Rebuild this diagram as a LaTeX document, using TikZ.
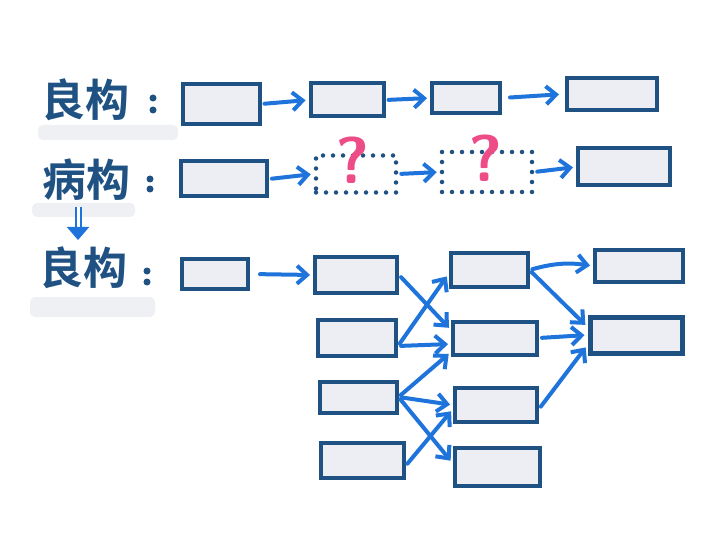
\documentclass[tikz,border=0pt]{standalone}
\usepackage{fontspec}
\newfontfamily\cjk{Noto Sans CJK SC}[BoldFont={Noto Sans CJK SC Bold}]
\usetikzlibrary{arrows.meta}
\definecolor{navy}{HTML}{1F5282}
\definecolor{arrowblue}{HTML}{1F74DC}
\definecolor{boxgray}{HTML}{ECEEF3}
\definecolor{barshade}{HTML}{EFF0F4}
\definecolor{qpink}{HTML}{EE4C86}
\tikzset{
  boxnode/.style={draw=navy, fill=boxgray, line width=4pt, inner sep=0pt},
  dotbox/.style={draw=navy, line width=4.5pt, line cap=round, dash pattern=on 0pt off 10pt, inner sep=0pt},
  link/.style={draw=arrowblue, line width=4pt, line cap=round, -{Straight Barb[length=10pt,width=18pt,line width=4pt]}, shorten <=3pt, shorten >=3pt},
  label/.style={text=navy, font=\cjk\bfseries\fontsize{44}{48}\selectfont, inner sep=0pt},
  dotmark/.style={circle, fill=navy, inner sep=0pt, minimum size=7pt},
  qmark/.style={text=qpink, font=\sffamily\bfseries\fontsize{66}{68}\selectfont, inner sep=0pt},
  shadebar/.style={fill=barshade, draw=none, rounded corners=5pt}
}
\begin{document}
\begin{tikzpicture}[x=1pt,y=-1pt]
\useasboundingbox[fill=white] (0,0) rectangle (720,540);
% highlight bars
\fill[shadebar] (38,125) rectangle (178,140);
\fill[shadebar] (32,203) rectangle (135,217);
\fill[shadebar] (30,297) rectangle (155,317);
% labels
\node[label] (l1) at (85,100) {良构};
\node[label] (l2) at (86,180) {病构};
\node[label] (l3) at (83,268) {良构};
\node[dotmark] (c1a) at (153,98) {};
\node[dotmark] (c1b) at (153,110) {};
\node[dotmark] (c2a) at (150,179) {};
\node[dotmark] (c2b) at (150,189) {};
\node[dotmark] (c3a) at (147,271) {};
\node[dotmark] (c3b) at (147,282) {};
% double arrow
\coordinate (dn1) at (78,207);
\coordinate (dn2) at (78,240);
\draw[arrowblue, line width=2pt, double distance=3pt, -{Triangle[length=13pt,width=22pt,fill=arrowblue]}] (dn1) -- (dn2);
% row 1
\node[boxnode, minimum width=77pt, minimum height=40pt] (r1a) at (221,104) {};
\node[boxnode, minimum width=73pt, minimum height=33pt] (r1b) at (347,100) {};
\node[boxnode, minimum width=68pt, minimum height=30pt] (r1c) at (466,98) {};
\node[boxnode, minimum width=90pt, minimum height=32pt] (r1d) at (612,94) {};
\draw[link] (r1a.east) -- (r1b.west);
\draw[link] (r1b.east) -- (r1c.west);
\draw[link, shorten <=8pt, shorten >=6pt] (r1c.east) -- (r1d.west);
% row 2
\node[boxnode, minimum width=86pt, minimum height=35pt] (r2a) at (224,179) {};
\node[dotbox, minimum width=80pt, minimum height=37pt] (q1) at (356,174) {};
\node[dotbox, minimum width=90pt, minimum height=40pt] (q2) at (487,172) {};
\node[boxnode, minimum width=92pt, minimum height=37pt] (r2d) at (624,167) {};
\node[qmark] (qm1) at (353,160) {?};
\node[qmark] (qm2) at (486,158) {?};
\draw[link] (r2a.east) -- (q1.west);
\draw[link] (q1.east) -- (q2.west);
\draw[link] (q2.east) -- (r2d.west);
% row 3
\node[boxnode, minimum width=66pt, minimum height=30pt] (r3a) at (215,274) {};
\node[boxnode, minimum width=82pt, minimum height=36pt] (b1) at (356,275) {};
\node[boxnode, minimum width=78pt, minimum height=36pt] (b2) at (357,338) {};
\node[boxnode, minimum width=77pt, minimum height=31pt] (b3) at (358,397) {};
\node[boxnode, minimum width=83pt, minimum height=35pt] (b4) at (362,460) {};
\node[boxnode, minimum width=77pt, minimum height=34pt] (c1) at (489,270) {};
\node[boxnode, minimum width=84pt, minimum height=33pt] (c2) at (495,338) {};
\node[boxnode, minimum width=82pt, minimum height=34pt] (c3) at (496,405) {};
\node[boxnode, minimum width=85pt, minimum height=38pt] (c4) at (497,467) {};
\node[boxnode, minimum width=88pt, minimum height=32pt] (d1) at (639,266) {};
\node[boxnode, minimum width=92pt, minimum height=36pt, line width=5pt] (d2) at (636,335) {};
\draw[link, shorten <=10pt] (r3a.east) -- (b1.west);
\draw[link] (b1.east) -- ([yshift=8pt]c2.west);
\draw[link] ([yshift=-8pt]b2.east) -- ([yshift=-4pt]c1.west);
\draw[link] ([yshift=-8pt]b2.east) -- ([yshift=-6pt]c2.west);
\draw[link] (b3.east) -- ([yshift=-14pt]c2.west);
\draw[link] (b3.east) -- (c3.west);
\draw[link] ([yshift=-6pt]b4.east) -- ([yshift=-4pt]c3.west);
\draw[link] (b3.east) -- ([yshift=4pt]c4.west);
\draw[link] (c1.east) to[bend left=12] (d1.west);
\draw[link] (c1.east) -- ([yshift=8pt]d2.west);
\draw[link] (c2.east) -- (d2.west);
\draw[link] ([yshift=-4pt]c3.east) -- ([yshift=-10pt]d2.west);
\end{tikzpicture}
\end{document}
